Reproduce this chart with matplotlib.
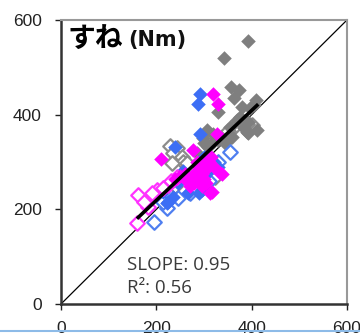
import matplotlib
matplotlib.use('Agg')
import matplotlib.pyplot as plt
from matplotlib.lines import Line2D
import numpy as np

# values (torque, Nm)
gray_fill_x = [392, 342, 357, 374, 363, 409, 380, 397, 330, 369, 392, 354, 390, 306, 298,
               330, 309, 358, 345, 375, 405, 384, 321, 286, 411, 392, 318, 300]
gray_fill_y = [556, 520, 458, 452, 435, 431, 416, 415, 405, 389, 385, 374, 364, 368, 350,
               346, 332, 353, 340, 395, 420, 372, 345, 320, 368, 361, 360, 340]
gray_open_x = [229, 243, 235, 254, 256, 233, 323, 361, 400, 264, 240, 300, 390, 350]
gray_open_y = [334, 330, 319, 311, 300, 298, 268, 371, 378, 298, 250, 300, 380, 365]
blue_fill_x = [292, 287, 292, 239, 214, 224, 296, 266, 289, 235, 222, 300, 310, 285, 270,
               320, 255, 300, 330, 245]
blue_fill_y = [444, 422, 359, 332, 237, 216, 241, 235, 235, 226, 213, 270, 280, 260, 265,
               300, 280, 310, 290, 255]
blue_open_x = [355, 195, 222, 214, 271, 245, 310, 280, 300, 330]
blue_open_y = [321, 173, 203, 215, 234, 224, 260, 250, 280, 300]
mag_fill_x = [319, 330, 327, 210, 277, 337, 313, 275, 285, 290, 295, 300, 305, 310, 280,
              270, 290, 300, 315, 320, 285, 265, 295, 305, 260, 250, 240, 296, 317, 334]
mag_fill_y = [444, 422, 359, 306, 325, 274, 235, 270, 280, 290, 275, 265, 285, 300, 255,
              250, 260, 295, 310, 290, 300, 260, 250, 255, 275, 270, 265, 290, 237, 277]
mag_open_x = [161, 159, 187, 183, 201, 224, 243, 191, 230, 175, 215]
mag_open_y = [230, 171, 226, 205, 241, 251, 268, 235, 260, 215, 245]

fit_x = [162, 411]
slope = 0.95
intercept = 29
r2 = 0.56

fig = plt.figure(figsize=(3.6, 3.34), dpi=100)
ax = fig.add_axes([61/360, 30/334, 286/360, 284/334])

ax.plot([0, 600], [0, 600], color='black', lw=0.9, zorder=1)

ms = 55
ax.scatter(gray_open_x, gray_open_y, s=ms, marker='D', facecolors='white',
           edgecolors='#8c8c8c', linewidths=1.6, zorder=2)
ax.scatter(gray_fill_x, gray_fill_y, s=ms, marker='D', color='#7f7f7f', lw=0, zorder=3)
ax.scatter(blue_open_x, blue_open_y, s=ms, marker='D', facecolors='white',
           edgecolors='#4f7ff0', linewidths=1.6, zorder=3)
ax.scatter(blue_fill_x, blue_fill_y, s=ms, marker='D', color='#3c6ef5', lw=0, zorder=4)
ax.scatter(mag_open_x, mag_open_y, s=ms, marker='D', facecolors='white',
           edgecolors='#ff33ff', linewidths=1.6, zorder=4)
ax.scatter(mag_fill_x, mag_fill_y, s=ms, marker='D', color='#ff00ff', lw=0, zorder=5)

fx = np.array(fit_x)
ax.plot(fx, slope*fx + intercept, color='black', lw=2.6, zorder=6)

ax.set_xlim(0, 600)
ax.set_ylim(0, 600)
ax.set_xticks([0, 200, 400, 600])
ax.set_yticks([0, 200, 400, 600])
ax.tick_params(labelsize=12.5, length=4, width=1, colors='#222222')
ax.tick_params(axis='y', pad=10)
ax.tick_params(axis='x', pad=8)
for lab in ax.get_xticklabels() + ax.get_yticklabels():
    lab.set_family('Liberation Sans')
ax.spines['left'].set_color('#333333')
ax.spines['bottom'].set_color('#333333')
ax.spines['left'].set_linewidth(1.8)
ax.spines['bottom'].set_linewidth(1.8)
ax.spines['top'].set_color('#999999')
ax.spines['right'].set_color('#999999')
ax.spines['top'].set_linewidth(1.5)
ax.spines['right'].set_linewidth(1.5)

t1 = ax.text(0.022, 0.978, 'すね', transform=ax.transAxes, ha='left', va='top',
             fontsize=20, fontweight='bold', family=['Noto Sans CJK JP', 'DejaVu Sans'],
             color='black')
ax.annotate('(Nm)', xy=(1, 0.14), xycoords=t1, xytext=(4, 0), textcoords='offset points',
            ha='left', va='bottom', fontsize=15, fontweight='bold',
            family='DejaVu Sans', color='#111111')

ax.text(0.231, 0.12, 'SLOPE: %.2f' % slope, transform=ax.transAxes, ha='left',
        va='baseline', fontsize=13.5, family='Open Sans', color='#3a3a3a')
ax.text(0.231, 0.039, 'R²: %.2f' % r2, transform=ax.transAxes, ha='left',
        va='baseline', fontsize=13.5, family='Open Sans', color='#3a3a3a')

fig.add_artist(Line2D([0, 1], [3/334, 3/334], transform=fig.transFigure,
                      color='#8dbbe8', lw=1.5))

fig.savefig('out.png', dpi=100)
